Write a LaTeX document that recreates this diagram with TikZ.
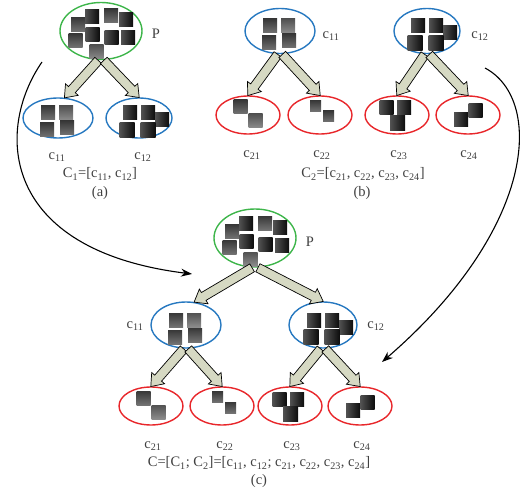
\documentclass[tikz,border=0pt]{standalone}
\usepackage{fontspec}
\setmainfont{Liberation Serif}
\usetikzlibrary{shapes.geometric}
\usetikzlibrary{shapes.arrows}
\usetikzlibrary{arrows.meta}
\usetikzlibrary{calc}

\definecolor{rootgreen}{RGB}{61,181,74}
\definecolor{levelblue}{RGB}{38,120,192}
\definecolor{leafred}{RGB}{232,38,42}
\definecolor{arrowfill}{RGB}{214,217,195}

\tikzset{
  root/.style={ellipse, draw=rootgreen, line width=1.4pt, minimum width=82pt, minimum height=57pt, inner sep=0pt},
  mid/.style={ellipse, draw=levelblue, line width=1.4pt, minimum width=70pt, minimum height=45pt, inner sep=0pt},
  leaf/.style={ellipse, draw=leafred, line width=1.4pt, minimum width=64pt, minimum height=38pt, inner sep=0pt},
  lbl/.style={text=black!75, font=\fontsize{14.5}{17}\selectfont, inner sep=0pt},
  bigarrow/.style={single arrow, draw=black, fill=arrowfill, line width=0.7pt, inner xsep=0pt, inner ysep=4.2pt,
    single arrow head extend=4pt, single arrow tip angle=75},
  link/.style={-{Stealth[length=11pt,width=8pt]}, line width=1.1pt},
  darkpatch/.style={left color=black!68, right color=black!95},
  midpatch/.style={top color=black!78, bottom color=black!55},
  lightpatch/.style={top color=black!68, bottom color=black!45}
}

% one shaded square: [size]{style}{dx}{dy}
\newcommand\patch[4][14]{\path[#2] (#3-#1/2,#4-#1/2) rectangle ++(#1,#1);}
% hollow fat arrow from one anchor to another
\newcommand\fatarrow[2]{%
  \path let \p1=($(#2)-(#1)$), \n1={veclen(\x1,\y1)} in
    (#1) -- (#2) node[bigarrow, minimum height=\n1, pos=0, sloped, allow upside down, anchor=tail] {};}

% the clusters of squares
\newcommand\rootpatches[1]{%
  \begin{scope}[shift={(#1)}]
    \patch{midpatch}{-23}{-6.5}
    \patch{darkpatch}{-9}{-14.5}
    \patch{midpatch}{10}{-15}
    \patch{darkpatch}{25}{-11}
    \patch{midpatch}{-25.5}{9.5}
    \patch{darkpatch}{-8.5}{3.5}
    \patch{darkpatch}{10.5}{6.5}
    \patch{darkpatch}{27}{7}
    \patch{lightpatch}{-4.5}{21}
  \end{scope}}
\newcommand\onepatches[1]{%
  \begin{scope}[shift={(#1)}]
    \patch{midpatch}{-10}{-5}
    \patch{lightpatch}{8}{-5}
    \patch{midpatch}{-11}{12}
    \patch{midpatch}{9}{10}
  \end{scope}}
\newcommand\twopatches[1]{%
  \begin{scope}[shift={(#1)}]
    \patch{darkpatch}{-9}{-5}
    \patch{darkpatch}{9}{-5}
    \patch{darkpatch}{23}{2}
    \patch[15]{darkpatch}{-12}{12}
    \patch[15]{darkpatch}{9}{12}
  \end{scope}}
\newcommand\leafApatches[1]{%
  \begin{scope}[shift={(#1)}]
    \patch{midpatch}{-7.5}{-8}
    \patch{lightpatch}{7.5}{6}
  \end{scope}}
\newcommand\leafBpatches[1]{%
  \begin{scope}[shift={(#1)}]
    \patch[11]{midpatch}{-4.5}{-9}
    \patch[11]{midpatch}{8.5}{1.5}
  \end{scope}}
\newcommand\leafCpatches[1]{%
  \begin{scope}[shift={(#1)}]
    \patch{darkpatch}{-10.5}{-7}
    \patch{darkpatch}{7}{-7}
    \patch[15]{darkpatch}{0.5}{8}
  \end{scope}}
\newcommand\leafDpatches[1]{%
  \begin{scope}[shift={(#1)}]
    \patch{darkpatch}{-7}{4.5}
    \patch{darkpatch}{7.5}{-4}
  \end{scope}}

\begin{document}
\begin{tikzpicture}[x=1pt, y=-1pt]
  \useasboundingbox (0,0) rectangle (525,492);

  % (a) root and first level
  \node[root] (Pa) at (101,31) {};
  \node[mid, minimum height=40pt] (Aa11) at (58,118) {};
  \node[mid, minimum width=66pt, minimum height=40pt] (Aa12) at (139,118) {};
  \rootpatches{Pa}
  \onepatches{Aa11}
  \twopatches{Aa12}
  \fatarrow{Pa.265}{Aa11.72}
  \fatarrow{Pa.275}{Aa12.north}
  \node[lbl] (Pa lbl) at (156,34) {P};
  \node[lbl] (Aa11 lbl) at (57,157) {c\textsubscript{11}};
  \node[lbl] (Aa12 lbl) at (143,157) {c\textsubscript{12}};
  \node[lbl] (Ca) at (100,174) {C\textsubscript{1}=[c\textsubscript{11}, c\textsubscript{12}]};
  \node[lbl] (tag a) at (100,193) {(a)};

  % (b) first level and second level
  \node[mid] (Bb11) at (280,31) {};
  \node[mid, minimum width=66pt] (Bb12) at (427,31) {};
  \node[leaf] (Bb21) at (248,115) {};
  \node[leaf] (Bb22) at (320,115) {};
  \node[leaf] (Bb23) at (397,115) {};
  \node[leaf] (Bb24) at (468,115) {};
  \onepatches{Bb11}
  \twopatches{Bb12}
  \leafApatches{Bb21}
  \leafBpatches{Bb22}
  \leafCpatches{Bb23}
  \leafDpatches{Bb24}
  \fatarrow{Bb11.265}{Bb21.north}
  \fatarrow{Bb11.275}{Bb22.north}
  \fatarrow{Bb12.265}{Bb23.north}
  \fatarrow{Bb12.275}{Bb24.north}
  \node[lbl] (Bb11 lbl) at (331,36) {c\textsubscript{11}};
  \node[lbl] (Bb12 lbl) at (480,36) {c\textsubscript{12}};
  \node[lbl] (Bb21 lbl) at (252,155) {c\textsubscript{21}};
  \node[lbl] (Bb22 lbl) at (322,155) {c\textsubscript{22}};
  \node[lbl] (Bb23 lbl) at (399,155) {c\textsubscript{23}};
  \node[lbl] (Bb24 lbl) at (469,155) {c\textsubscript{24}};
  \node[lbl] (Cb) at (363,174) {C\textsubscript{2}=[c\textsubscript{21}, c\textsubscript{22}, c\textsubscript{23}, c\textsubscript{24}]};
  \node[lbl] (tag b) at (362,193) {(b)};

  % (c) whole tree
  \node[root, minimum height=58pt] (Pc) at (255,238) {};
  \node[mid, minimum height=46pt] (Cc11) at (186,325) {};
  \node[mid, minimum width=68pt, minimum height=46pt] (Cc12) at (323,325) {};
  \node[leaf] (Cc21) at (151,406) {};
  \node[leaf] (Cc22) at (222,406) {};
  \node[leaf] (Cc23) at (290,406) {};
  \node[leaf] (Cc24) at (360,406) {};
  \rootpatches{Pc}
  \onepatches{Cc11}
  \twopatches{Cc12}
  \leafApatches{Cc21}
  \leafBpatches{Cc22}
  \leafCpatches{Cc23}
  \leafDpatches{Cc24}
  \fatarrow{Pc.265}{Cc11.70}
  \fatarrow{Pc.275}{Cc12.north}
  \fatarrow{Cc11.265}{Cc21.north}
  \fatarrow{Cc11.275}{Cc22.north}
  \fatarrow{Cc12.265}{Cc23.north}
  \fatarrow{Cc12.275}{Cc24.north}
  \node[lbl] (Pc lbl) at (310,242) {P};
  \node[lbl] (Cc11 lbl) at (135,326) {c\textsubscript{11}};
  \node[lbl] (Cc12 lbl) at (376,326) {c\textsubscript{12}};
  \node[lbl] (Cc21 lbl) at (153,446) {c\textsubscript{21}};
  \node[lbl] (Cc22 lbl) at (225,446) {c\textsubscript{22}};
  \node[lbl] (Cc23 lbl) at (292,446) {c\textsubscript{23}};
  \node[lbl] (Cc24 lbl) at (362,446) {c\textsubscript{24}};
  \node[lbl] (Cc) at (259,463) {C=[C\textsubscript{1}; C\textsubscript{2}]=[c\textsubscript{11}, c\textsubscript{12}; c\textsubscript{21}, c\textsubscript{22}, c\textsubscript{23}, c\textsubscript{24}]};
  \node[lbl] (tag c) at (259,481) {(c)};

  % curved links into the whole tree
  \coordinate (la) at (42,62);
  \coordinate (lc) at (192,274);
  \draw[link] (la) .. controls (-5,130) and (0,250) .. (lc);
  \coordinate (rb) at (485,68);
  \coordinate (rc) at (382,362);
  \draw[link] (rb) .. controls (545,100) and (535,230) .. (rc);
\end{tikzpicture}
\end{document}
